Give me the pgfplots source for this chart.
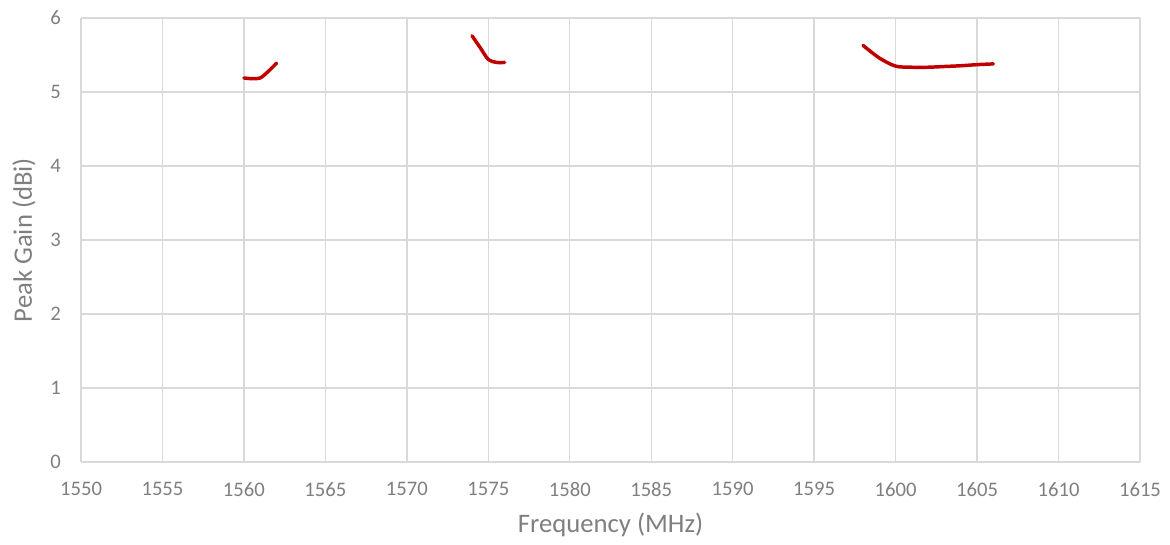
\documentclass[border=0pt]{standalone}
\usepackage{pgfplots}
\pgfplotsset{compat=1.18}
\usepackage{fontspec}
\setmainfont{Carlito}
\definecolor{gridc}{HTML}{D9D9D9}
\definecolor{textc}{HTML}{7F7F7F}
\definecolor{linec}{HTML}{C00000}
\begin{document}
\begin{tikzpicture}
\begin{axis}[
  at={(0,0)}, anchor=south west,
  scale only axis, width=794pt, height=333pt,
  xmin=1550, xmax=1615, ymin=0, ymax=6,
  xtick={1550,1555,...,1615}, ytick={0,1,...,6},
  grid=major, major grid style={gridc, line width=1pt},
  axis line style={gridc, line width=1pt},
  axis x line*=bottom, axis y line*=left,
  tick style={draw=none},
  xticklabel style={/pgf/number format/1000 sep={}, anchor=north, inner sep=0pt, yshift=-15pt},
  yticklabel style={anchor=east, inner sep=0pt, xshift=-15pt},
  /pgf/number format/assume math mode=true,
  ticklabel style={font=\fontsize{15.5}{18}\selectfont, text=textc},
  xlabel={Frequency (MHz)}, ylabel={Peak Gain (dBi)},
  label style={font=\fontsize{20}{24}\selectfont, text=textc},
  xlabel style={at={(axis description cs:0.5,-0.1419)}, anchor=center},
  ylabel style={at={(axis description cs:-0.0538,0.5)}, anchor=center},
]
\addplot[linec, line width=2.6pt, line cap=round, smooth] coordinates {
(1560,5.19) (1560.5,5.18) (1561,5.19) (1561.5,5.28) (1562,5.39)};
\addplot[linec, line width=2.6pt, line cap=round, smooth] coordinates {
(1574,5.76) (1574.5,5.60) (1575,5.44) (1575.5,5.40) (1576,5.40)};
\addplot[linec, line width=2.6pt, line cap=round, smooth] coordinates {
(1598,5.63) (1599,5.46) (1600,5.35) (1601,5.335) (1602,5.335) (1603,5.345) (1604,5.355) (1605,5.37) (1606,5.38)};
\end{axis}
\path (-60.75pt,-61.5pt) rectangle (816.5pt,346.5pt);
\end{tikzpicture}
\end{document}
